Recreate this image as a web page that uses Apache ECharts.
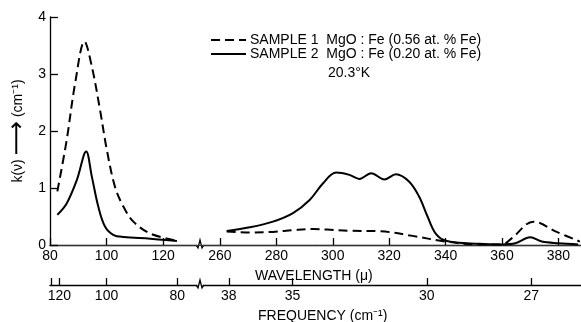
<!DOCTYPE html>
<html>
<head>
<meta charset="utf-8">
<script src="https://cdn.jsdelivr.net/npm/echarts@6/dist/echarts.min.js"></script>
<style>
  html, body { margin: 0; padding: 0; background: #fff; }
  #chart { width: 581px; height: 322px; }
</style>
</head>
<body>
<div id="chart"></div>
<script>
// wavelength (micron) and k(v)
var s1LeftWave = [82.6, 85.9, 88.9, 92.2, 94.8, 97.7, 100.1, 103.0, 106.0, 109.5, 115.5, 124.9];
var s1LeftK    = [0.94, 1.84, 2.84, 3.57, 3.13, 2.37, 1.67, 1.02, 0.67, 0.41, 0.20, 0.075];
var s2LeftWave = [82.6, 85.9, 89.5, 92.8, 94.8, 97.1, 99.5, 102.5, 106.0, 115.5, 124.9];
var s2LeftK    = [0.53, 0.73, 1.14, 1.64, 1.20, 0.67, 0.32, 0.175, 0.14, 0.11, 0.07];

var s1RightWave = [262.4, 270.6, 278.8, 285.9, 293.3, 298, 306, 317, 328.3, 340.1, 351.9, 360, 363.5, 371.1, 379.4, 387.6];
var s1RightK    = [0.235, 0.22, 0.23, 0.26, 0.28, 0.27, 0.25, 0.24, 0.16, 0.06, 0.01, 0.01, 0.12, 0.41, 0.23, 0.06];
var s2RightWave = [262.4, 270.6, 278.8, 285.9, 291.8, 296.5, 301.2, 305.9, 309.5, 313.6, 318.3, 322.4, 327.1, 330.6, 333.6, 336.5, 340.1, 351.9, 360, 364.7, 370, 374.1, 380, 387];
var s2RightK    = [0.245, 0.31, 0.41, 0.56, 0.79, 1.08, 1.27, 1.23, 1.16, 1.26, 1.15, 1.24, 1.11, 0.85, 0.5, 0.2, 0.075, 0.02, 0.01, 0.03, 0.135, 0.06, 0.03, 0.01];

// tick labels
var waveTicksLeft  = [80, 100, 120];
var waveTicksRight = [260, 280, 300, 320, 340, 360, 380];
var freqTicksLeft  = [120, 100, 80];
var freqTicksRight = [38, 35, 30, 27];
var kTicks = [0, 1, 2, 3, 4];

var sample1Name = 'SAMPLE 1  MgO : Fe (0.56 at. % Fe)';
var sample2Name = 'SAMPLE 2  MgO : Fe (0.20 at. % Fe)';

var font = 'Liberation Sans';
var ink = '#000';
var fs = 14;

function pairs(xs, ys) {
    return xs.map(function (x, i) { return [x, ys[i]]; });
}
function freqToWave(f) { return 10000 / f; }

var waveAxisBase = {
    type: 'value',
    position: 'bottom',
    axisLine: { lineStyle: { color: ink, width: 1.3 } },
    axisTick: { inside: true, length: 7, lineStyle: { color: ink, width: 1.3 } },
    axisLabel: { color: ink, fontFamily: font, fontSize: fs, margin: 4 },
    splitLine: { show: false }
};

function waveAxis(grid, min, max, ticks) {
    return Object.assign({}, waveAxisBase, {
        gridIndex: grid, min: min, max: max,
        axisTick: Object.assign({}, waveAxisBase.axisTick, { customValues: ticks }),
        axisLabel: Object.assign({}, waveAxisBase.axisLabel, { customValues: ticks })
    });
}

function freqAxis(grid, min, max, freqs, extraTicks) {
    var vals = freqs.map(freqToWave);
    return Object.assign({}, waveAxisBase, {
        gridIndex: grid, min: min, max: max, offset: 40,
        axisTick: Object.assign({}, waveAxisBase.axisTick, { customValues: (extraTicks || []).concat(vals) }),
        axisLabel: Object.assign({}, waveAxisBase.axisLabel, {
            customValues: vals,
            formatter: function (v) { return String(Math.round(10000 / v)); }
        })
    });
}

function line(name, grid, data, dashed) {
    return {
        name: name, type: 'line',
        xAxisIndex: grid === 0 ? 0 : 2, yAxisIndex: grid,
        data: data, smooth: 0.35, symbol: 'none',
        lineStyle: { color: ink, width: 2, type: dashed ? [9, 5] : 'solid' },
        itemStyle: { color: ink }
    };
}

var plainText = { color: ink, fontFamily: font, fontSize: fs, fontWeight: 'normal' };

var chart = echarts.init(document.getElementById('chart'));
var option = {
    animation: false,
    backgroundColor: '#fff',
    textStyle: { fontFamily: font },
    grid: [
        { left: 50, top: 17, width: 147, bottom: 77 },
        { left: 203, top: 17, right: 0, bottom: 77 },
        { left: 50, top: 17, right: 0, bottom: 77 }
    ],
    legend: {
        orient: 'vertical', left: 210, top: 33, padding: 0,
        itemWidth: 35, itemHeight: 10, itemGap: 0,
        itemStyle: { opacity: 0 },
        data: [sample1Name, sample2Name],
        textStyle: { color: ink, fontFamily: font, fontSize: fs, lineHeight: 14, padding: [0, 0, 0, -1] }
    },
    title: [
        { text: '20.3°K', left: 323, top: 61, textStyle: plainText },
        { text: 'WAVELENGTH (μ)', left: 250, top: 264, textStyle: plainText },
        { text: 'FREQUENCY (cm⁻¹)', left: 253, top: 304, textStyle: plainText }
    ],
    xAxis: [
        waveAxis(0, 80, 132, waveTicksLeft),
        freqAxis(0, 80, 132, freqTicksLeft, [80.4]),
        waveAxis(1, 254, 388, waveTicksRight),
        freqAxis(1, 254, 388, freqTicksRight),
        // top frame line across both panels
        { gridIndex: 2, type: 'value', position: 'top', min: 0, max: 1,
          axisLine: { lineStyle: { color: '#333', width: 1 } },
          axisTick: { show: false }, axisLabel: { show: false }, splitLine: { show: false } }
    ],
    yAxis: [
        {
            gridIndex: 0, type: 'value', min: 0, max: 4, interval: 1,
            name: '{t|k(ν)} {a|⟶} {t|(cm⁻¹)}', nameLocation: 'middle', nameGap: 24, nameRotate: 90,
            nameTextStyle: {
                color: ink, fontFamily: font, fontSize: fs,
                rich: {
                    t: { color: ink, fontFamily: font, fontSize: fs },
                    a: { color: ink, fontFamily: 'DejaVu Sans', fontSize: 24, lineHeight: 16 }
                }
            },
            axisLine: { show: true, lineStyle: { color: ink, width: 1.3 } },
            axisTick: { inside: true, length: 8, lineStyle: { color: ink, width: 1.3 } },
            axisLabel: { color: ink, fontFamily: font, fontSize: fs, margin: 4,
                customValues: kTicks },
            splitLine: { show: false }
        },
        { gridIndex: 1, type: 'value', min: 0, max: 4, show: false },
        { gridIndex: 2, type: 'value', min: 0, max: 1, show: false }
    ],
    series: [
        line(sample1Name, 0, pairs(s1LeftWave, s1LeftK), true),
        line(sample2Name, 0, pairs(s2LeftWave, s2LeftK), false),
        line(sample1Name, 1, pairs(s1RightWave, s1RightK), true),
        line(sample2Name, 1, pairs(s2RightWave, s2RightK), false)
    ],
    graphic: [
        // axis break marks
        { type: 'polyline', shape: { points: [[196, 245], [198, 248], [200, 240], [202, 248], [204, 245]] },
          style: { stroke: ink, lineWidth: 1.3, fill: null } },
        { type: 'polyline', shape: { points: [[196, 285], [198, 288], [200, 280], [202, 288], [204, 285]] },
          style: { stroke: ink, lineWidth: 1.3, fill: null } }
    ]
};
chart.setOption(option);
</script>
</body>
</html>
